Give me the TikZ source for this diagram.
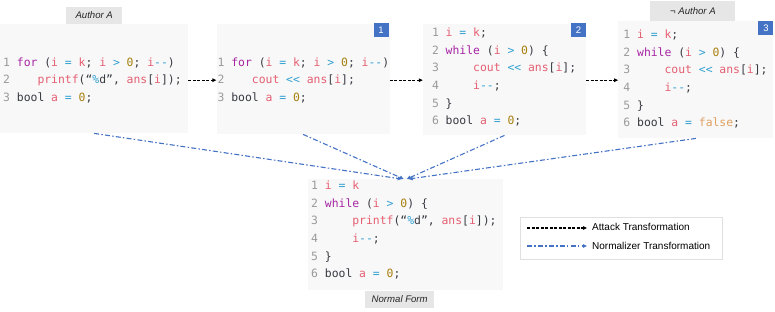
\documentclass[tikz,border=0pt]{standalone}
\usepackage{fontspec}
\usepackage{xcolor}
\usepackage{tikz}
\usetikzlibrary{arrows.meta,positioning}
\newfontfamily\codefont{DejaVu Sans Mono}
\newfontfamily\lblfont{Liberation Sans}
\definecolor{ink}{HTML}{383A42}
\definecolor{kwc}{HTML}{A626A4}
\definecolor{vrc}{HTML}{E45F72}
\definecolor{opc}{HTML}{2F9FD0}
\definecolor{numc}{HTML}{A8800F}
\definecolor{flc}{HTML}{E0A060}
\definecolor{lnc}{HTML}{9A9A9A}
\definecolor{boxbg}{HTML}{F8F8F8}
\definecolor{tabbg}{HTML}{E6E6E6}
\definecolor{badgebg}{HTML}{4472C4}
\definecolor{normblue}{HTML}{4472C4}
\newcommand{\ckw}[1]{\textcolor{kwc}{#1}}
\newcommand{\cvr}[1]{\textcolor{vrc}{#1}}
\newcommand{\cop}[1]{\textcolor{opc}{#1}}
\newcommand{\cnum}[1]{\textcolor{numc}{#1}}
\newcommand{\cfl}[1]{\textcolor{flc}{#1}}
\newcommand{\clno}[1]{\textcolor{lnc}{#1}}
\tikzset{
  codebox/.style={rectangle, fill=boxbg, inner sep=0pt, anchor=north west},
  code/.style={align=left, inner sep=0pt, anchor=west, text=ink,
               font=\codefont\fontsize{11.4}{17.6}\selectfont\frenchspacing},
  tab/.style={rectangle, fill=tabbg, inner sep=0pt, text=black!85,
              font=\lblfont\itshape\fontsize{9.6}{11}\selectfont},
  badge/.style={rectangle, fill=badgebg, inner sep=0pt, text=white,
                minimum width=15pt, minimum height=14pt,
                font=\lblfont\fontsize{9.5}{10}\selectfont},
  legbox/.style={rectangle, draw=black!12, fill=white, inner sep=0pt,
                 anchor=north west},
  legtxt/.style={inner sep=0pt, anchor=west, font=\lblfont\fontsize{10}{12}\selectfont},
  atk/.style={-{Triangle[length=4pt,width=3.5pt]}, draw=black, line width=1.1pt,
              dash pattern=on 3pt off 1.5pt},
  nrm/.style={-{Triangle[length=4pt,width=3.5pt]}, draw=normblue, line width=1.1pt,
              dash pattern=on 5pt off 2.2pt on 1.5pt off 2.2pt},
}
\begin{document}
\begin{tikzpicture}[x=1pt, y=-1pt]
\useasboundingbox (0,0) rectangle (775,311);

% --- attack chain -------------------------------------------------------
\node[codebox, minimum width=188pt, minimum height=109pt] (srcA) at (0,24) {};
\node[codebox, right=28pt of srcA.north east, anchor=north west,
      minimum width=173pt, minimum height=110pt] (var1) {};
\node[codebox, right=33pt of var1.north east, anchor=north west,
      minimum width=163pt, minimum height=111pt] (var2) {};
\node[codebox, right=32pt of var2.north east, anchor=north west, yshift=3pt,
      minimum width=155pt, minimum height=117pt] (var3) {};

\node[code, yshift=-1.5pt] (cA) at ([xshift=3pt]srcA.west)
  {\clno{1} \ckw{for} (\cvr{i} \cop{=} \cvr{k}; \cvr{i} \cop{>} \cnum{0}; \cvr{i}\cop{-{}-})\\
   \clno{2}~~~~\cvr{printf}(“\cop{\%}d”, \cvr{ans}[\cvr{i}]);\\
   \clno{3} bool \cvr{a} \cop{=} \cnum{0};};
\node[code, yshift=-1pt] (c1) at ([xshift=1pt]var1.west)
  {\clno{1} \ckw{for} (\cvr{i} \cop{=} \cvr{k}; \cvr{i} \cop{>} \cnum{0}; \cvr{i}\cop{-{}-})\\
   \clno{2}~~~~\cvr{cout} \cop{<{}<} \cvr{ans}[\cvr{i}];\\
   \clno{3} bool \cvr{a} \cop{=} \cnum{0};};
\node[code, yshift=2.5pt] (c2) at ([xshift=9pt]var2.west)
  {\clno{1} \cvr{i} \cop{=} \cvr{k};\\
   \clno{2} \ckw{while} (\cvr{i} \cop{>} \cnum{0}) \{\\
   \clno{3}~~~~~\cvr{cout} \cop{<{}<} \cvr{ans}[\cvr{i}];\\
   \clno{4}~~~~~\cvr{i}\cop{-{}-};\\
   \clno{5} \}\\
   \clno{6} bool \cvr{a} \cop{=} \cnum{0};};
\node[code, yshift=0.5pt] (c3) at ([xshift=5pt]var3.west)
  {\clno{1} \cvr{i} \cop{=} \cvr{k};\\
   \clno{2} \ckw{while} (\cvr{i} \cop{>} \cnum{0}) \{\\
   \clno{3}~~~~~\cvr{cout} \cop{<{}<} \cvr{ans}[\cvr{i}];\\
   \clno{4}~~~~~\cvr{i}\cop{-{}-};\\
   \clno{5} \}\\
   \clno{6} bool \cvr{a} \cop{=} \cfl{false};};

\node[tab, above=0pt of srcA, minimum width=56pt, minimum height=17pt] (tabA) {Author A};
\node[tab, above=0pt of var3, xshift=-3pt, minimum width=85pt, minimum height=20pt] (tabN)
  {¬ Author A};
\node[badge, anchor=north east, yshift=1pt] (b1) at ([xshift=-1pt]var1.north east) {1};
\node[badge, anchor=north east, yshift=1pt] (b2) at (var2.north east) {2};
\node[badge, anchor=north east] (b3) at (var3.north east) {3};

\draw[atk] ([yshift=-1.5pt]srcA.east) -- ([yshift=-1pt]var1.west);
\draw[atk] ([yshift=-1pt]var1.east) -- ([yshift=-0.5pt]var2.west);
\draw[atk] ([yshift=-0.5pt]var2.east) -- ([yshift=-0.5pt]var3.west);

% --- normal form --------------------------------------------------------
\node[codebox, minimum width=195pt, minimum height=111pt] (norm) at (308,179) {};
\node[code, yshift=4.5pt] (cN) at ([xshift=3pt]norm.west)
  {\clno{1} \cvr{i} \cop{=} \cvr{k}\\
   \clno{2} \ckw{while} (\cvr{i} \cop{>} \cnum{0}) \{\\
   \clno{3}~~~~~\cvr{printf}(“\cop{\%}d”, \cvr{ans}[\cvr{i}]);\\
   \clno{4}~~~~~\cvr{i}\cop{-{}-};\\
   \clno{5} \}\\
   \clno{6} bool \cvr{a} \cop{=} \cnum{0};};
\node[tab, below=0pt of norm, xshift=-6pt, minimum width=69pt, minimum height=17pt] (tabNF)
  {Normal Form};

\draw[nrm] (srcA.south) -- ([xshift=-4pt]norm.north);
\draw[nrm] (var1.south) -- ([xshift=-2pt]norm.north);
\draw[nrm] (var2.south) -- ([xshift=1pt]norm.north);
\draw[nrm] (var3.south) -- ([xshift=3pt]norm.north);

% --- legend -------------------------------------------------------------
\node[legbox, minimum width=202pt, minimum height=42pt] (leg) at (520,217) {};
\node[legtxt] (lgA) at (592,227) {Attack Transformation};
\node[legtxt] (lgN) at (592,246) {Normalizer Transformation};
\coordinate (lgAs) at (527,228);
\coordinate (lgNs) at (527,246);
\draw[atk] (lgAs) -- ([xshift=-5pt]lgA.west |- lgAs);
\draw[nrm] (lgNs) -- ([xshift=-5pt]lgN.west |- lgNs);
\end{tikzpicture}
\end{document}
